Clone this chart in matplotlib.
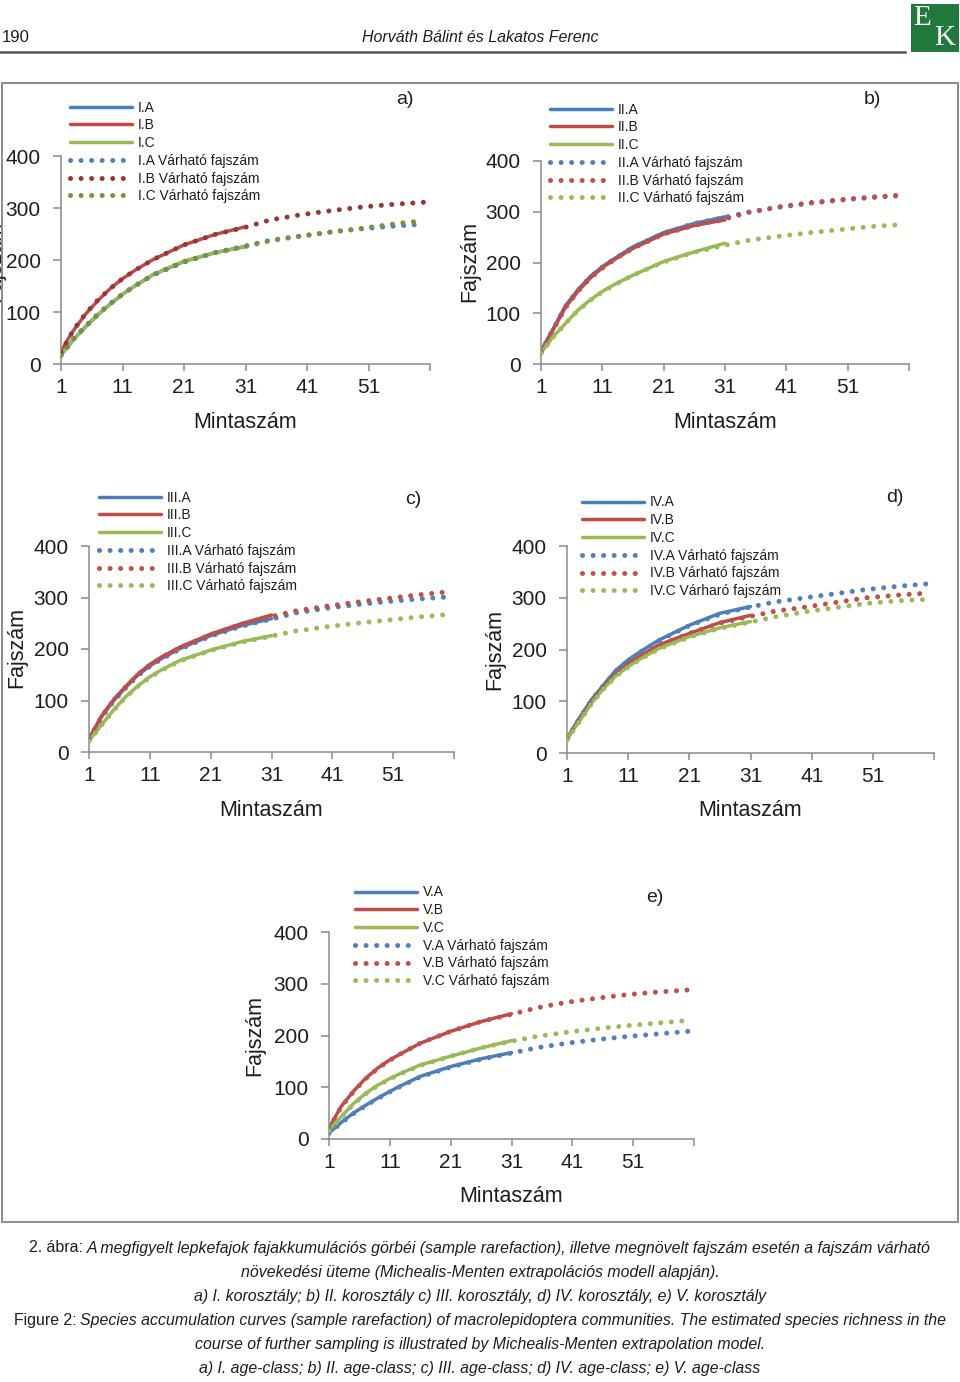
import matplotlib
matplotlib.use('Agg')
import matplotlib.pyplot as plt
from matplotlib.lines import Line2D
from matplotlib.patches import Rectangle

W, H = 960, 1382
FONT = ['Liberation Sans Narrow', 'Liberation Sans', 'DejaVu Sans']
plt.rcParams['font.family'] = FONT

# ---------------- data ----------------
OBS_X = [1, 2, 3, 5, 7, 9, 11, 13, 16, 21, 26, 31]
EXT_X = [1, 3, 5, 7, 9, 11, 13, 16, 21, 26, 31, 35, 40, 45, 50, 55, 60]
X_TICKS = [1, 11, 21, 31, 41, 51, 61]
X_TICK_LABELS = ['1', '11', '21', '31', '41', '51', '']
Y_TICKS = [0, 100, 200, 300, 400]

# panel a) I. age-class
IA_obs = [18, 32, 47, 72, 95, 115, 134, 150, 172, 197, 214, 226]
IB_obs = [24, 45, 64, 96, 122, 145, 164, 180, 201, 229, 249, 264]
IC_obs = [17, 31, 46, 71, 94, 115, 134, 150, 172, 198, 214, 226]
IA_ext = [17, 48, 73, 96, 116, 134, 150, 171, 196, 214, 227, 238, 246, 254, 260, 265, 269]
IB_ext = [22, 65, 97, 123, 145, 164, 180, 201, 229, 249, 263, 277, 287, 295, 302, 307, 311]
IC_ext = [16, 47, 72, 95, 116, 134, 150, 172, 197, 214, 226, 237, 246, 254, 261, 269, 276]

# panel b) II. age-class
IIA_obs = [25, 48, 70, 115, 146, 172, 192, 208, 231, 259, 277, 290]
IIB_obs = [24, 46, 68, 112, 143, 169, 190, 206, 228, 256, 273, 284]
IIC_obs = [22, 38, 54, 80, 106, 126, 143, 157, 175, 202, 221, 238]
IIA_ext = [24, 69, 114, 145, 171, 191, 207, 230, 258, 277, 289, 300, 309, 317, 323, 328, 332]
IIB_ext = [23, 67, 111, 143, 169, 189, 206, 228, 256, 273, 286, 299, 310, 318, 324, 329, 333]
IIC_ext = [21, 53, 80, 105, 125, 142, 156, 175, 201, 220, 234, 244, 252, 259, 265, 271, 275]

# panel c) III. age-class
IIIA_obs = [25, 46, 67, 99, 125, 149, 167, 182, 201, 226, 245, 259]
IIIB_obs = [26, 47, 69, 101, 127, 151, 170, 185, 204, 229, 249, 266]
IIIC_obs = [22, 37, 52, 81, 107, 128, 146, 160, 178, 198, 214, 226]
IIIA_ext = [24, 66, 98, 124, 148, 166, 181, 200, 225, 244, 258, 270, 279, 286, 292, 297, 301]
IIIB_ext = [25, 68, 100, 126, 150, 169, 184, 203, 228, 248, 263, 274, 283, 291, 298, 305, 311]
IIIC_ext = [21, 51, 80, 106, 127, 145, 159, 177, 197, 213, 225, 235, 243, 250, 256, 262, 267]

# panel d) IV. age-class
IVA_obs = [28, 48, 67, 103, 132, 160, 180, 196, 218, 247, 270, 283]
IVB_obs = [27, 46, 65, 100, 128, 153, 173, 188, 209, 231, 252, 266]
IVC_obs = [26, 44, 61, 96, 125, 149, 167, 182, 202, 225, 242, 254]
IVA_ext = [27, 66, 102, 131, 158, 178, 195, 217, 246, 268, 282, 292, 300, 308, 316, 322, 327]
IVB_ext = [26, 64, 99, 127, 152, 172, 187, 208, 231, 251, 264, 274, 282, 291, 300, 305, 309]
IVC_ext = [25, 60, 95, 124, 148, 166, 181, 201, 224, 241, 253, 263, 273, 281, 289, 294, 297]

# panel e) V. age-class
VA_obs = [12, 22, 32, 50, 65, 79, 92, 104, 121, 140, 155, 167]
VB_obs = [21, 42, 63, 92, 117, 137, 153, 166, 185, 208, 227, 242]
VC_obs = [17, 30, 43, 68, 88, 104, 117, 128, 143, 160, 176, 190]
VA_ext = [11, 31, 49, 64, 78, 91, 103, 120, 139, 154, 166, 176, 185, 192, 198, 203, 208]
VB_ext = [20, 62, 91, 116, 136, 152, 166, 185, 208, 227, 241, 253, 264, 272, 279, 284, 288]
VC_ext = [16, 42, 67, 87, 103, 116, 127, 142, 160, 176, 189, 198, 206, 213, 219, 224, 229]

LABELS_A = ['I.A', 'I.B', 'I.C', 'I.A Várható fajszám', 'I.B Várható fajszám', 'I.C Várható fajszám']
LABELS_B = ['II.A', 'II.B', 'II.C', 'II.A Várható fajszám', 'II.B Várható fajszám', 'II.C Várható fajszám']
LABELS_C = ['III.A', 'III.B', 'III.C', 'III.A Várható fajszám', 'III.B Várható fajszám', 'III.C Várható fajszám']
LABELS_D = ['IV.A', 'IV.B', 'IV.C', 'IV.A Várható fajszám', 'IV.B Várható fajszám', 'IV.C Várharó fajszám']
LABELS_E = ['V.A', 'V.B', 'V.C', 'V.A Várható fajszám', 'V.B Várható fajszám', 'V.C Várható fajszám']

X_LABEL = 'Mintaszám'
Y_LABEL = 'Fajszám'

# ---------------- styles ----------------
SOLID_COLORS = ['#4A7EBB', '#BE4B48', '#98B954']
DOT_COLORS_DARK = ['#4F81BD', '#953735', '#77933C']
DOT_COLORS = ['#4F81BD', '#C0504D', '#9BBB59']
SPINE = '#8a8a8a'
TXT = '#1e1e1e'

fig = plt.figure(figsize=(9.6, 13.82), dpi=100)


def fx(x):
    return x / W


def fy(y):
    return 1 - y / H


panels = [
    dict(box=(61, 156, 430, 364), obs=[IA_obs, IB_obs, IC_obs], ext=[IA_ext, IB_ext, IC_ext],
         labels=LABELS_A, dots=DOT_COLORS_DARK, leg=(70, 100.5), letter=('a)', 405, 100),
         ylab=(5, 262, 'right')),
    dict(box=(541, 161, 909, 364), obs=[IIA_obs, IIB_obs, IIC_obs], ext=[IIA_ext, IIB_ext, IIC_ext],
         labels=LABELS_B, dots=DOT_COLORS, leg=(550, 102.5), letter=('b)', 872, 100),
         ylab=(470, 262, 'center')),
    dict(box=(89, 546, 454, 752), obs=[IIIA_obs, IIIB_obs, IIIC_obs], ext=[IIIA_ext, IIIB_ext, IIIC_ext],
         labels=LABELS_C, dots=DOT_COLORS, leg=(99, 490.5), letter=('c)', 413, 499),
         ylab=(17, 648, 'center')),
    dict(box=(567, 546, 934, 753), obs=[IVA_obs, IVB_obs, IVC_obs], ext=[IVA_ext, IVB_ext, IVC_ext],
         labels=LABELS_D, dots=DOT_COLORS, leg=(582, 495.5), letter=('d)', 895, 498),
         ylab=(495, 650, 'center')),
    dict(box=(329, 932, 694, 1139), obs=[VA_obs, VB_obs, VC_obs], ext=[VA_ext, VB_ext, VC_ext],
         labels=LABELS_E, dots=DOT_COLORS, leg=(355, 885.5), letter=('e)', 655, 898),
         ylab=(255, 1035, 'center')),
]

DOT_STYLE = (0, (0.01, 2.1))

for p in panels:
    l, t, r, b = p['box']
    ax = fig.add_axes([fx(l), fy(b), (r - l) / W, (b - t) / H])
    handles = []
    for ys, c in zip(p['obs'], SOLID_COLORS):
        h, = ax.plot(OBS_X, ys, color=c, lw=2.5, solid_capstyle='round', zorder=2)
        handles.append(h)
    for ys, c in zip(p['ext'], p['dots']):
        h, = ax.plot(EXT_X, ys, color=c, lw=3.6, linestyle=DOT_STYLE,
                     dash_capstyle='round', zorder=3)
        handles.append(h)
    ax.set_xlim(1, 61)
    ax.set_ylim(0, 400)
    ax.set_xticks(X_TICKS)
    ax.set_xticklabels(X_TICK_LABELS)
    ax.set_yticks(Y_TICKS)
    for s in ('top', 'right'):
        ax.spines[s].set_visible(False)
    for s in ('left', 'bottom'):
        ax.spines[s].set_color(SPINE)
        ax.spines[s].set_linewidth(1.1)
    ax.tick_params(axis='y', direction='out', length=5.5, width=1.1, color=SPINE,
                   pad=9, labelsize=15, labelcolor=TXT)
    ax.tick_params(axis='x', direction='out', length=5, width=1.1, color=SPINE,
                   pad=5, labelsize=15, labelcolor=TXT)
    ax.patch.set_alpha(0)
    # axis labels
    fig.text(fx((l + r) / 2), fy(b + 58), X_LABEL, ha='center', va='center',
             fontsize=15.5, color=TXT)
    yx, yy, yha = p['ylab']
    fig.text(fx(yx), fy(yy), Y_LABEL, rotation=90, ha=yha, va='center',
             fontsize=15.5, color=TXT)
    # panel letter
    letter, lx, ly = p['letter']
    fig.text(fx(lx), fy(ly), letter, ha='center', va='center', fontsize=14, color=TXT)
    # legend
    gx, gy = p['leg']
    fig.legend(handles, p['labels'], loc='upper left',
               bbox_to_anchor=(fx(gx), fy(gy)), bbox_transform=fig.transFigure,
               frameon=False, fontsize=10, handlelength=4.45, handletextpad=0.43,
               labelspacing=0.27, borderpad=0, borderaxespad=0,
               labelcolor=TXT)

# ---------------- page decorations ----------------
fig.text(fx(2), fy(37), '190', ha='left', va='center', fontsize=12, color=TXT)
fig.text(fx(480), fy(37), 'Horváth Bálint és Lakatos Ferenc', ha='center', va='center',
         fontsize=11.5, style='italic', color=TXT)
fig.add_artist(Line2D([fx(0), fx(905)], [fy(52), fy(52)], color='#555555', lw=1.8,
                      transform=fig.transFigure))
# logo
fig.add_artist(Rectangle((fx(911), fy(52)), 48 / W, 48 / H, transform=fig.transFigure,
                         facecolor='#1f7a3c', edgecolor='none'))
fig.text(fx(922), fy(18), 'E', ha='center', va='center', fontsize=21,
         family=['Liberation Serif', 'DejaVu Serif'], color='white')
fig.text(fx(945), fy(38), 'K', ha='center', va='center', fontsize=21,
         family=['Liberation Serif', 'DejaVu Serif'], color='white')
# frame
fig.add_artist(Rectangle((fx(2), fy(1222)), 956 / W, (1222 - 83) / H, transform=fig.transFigure,
                         facecolor='none', edgecolor='#8c8c8c', lw=1.4))

# ---------------- caption ----------------
CAPTION = [
    [('2. ábra: ', 'normal'), ('A megfigyelt lepkefajok fajakkumulációs görbéi (sample rarefaction), illetve megnövelt fajszám esetén a fajszám várható', 'italic')],
    [('növekedési üteme (Michealis-Menten extrapolációs modell alapján).', 'italic')],
    [('a) I. korosztály; b) II. korosztály c) III. korosztály, d) IV. korosztály, e) V. korosztály', 'italic')],
    [('Figure 2: ', 'normal'), ('Species accumulation curves (sample rarefaction) of macrolepidoptera communities. The estimated species richness in the', 'italic')],
    [('course of further sampling is illustrated by Michealis-Menten extrapolation model.', 'italic')],
    [('a) I. age-class; b) II. age-class; c) III. age-class; d) IV. age-class; e) V. age-class', 'italic')],
]
CAP_Y = [1248, 1272, 1296, 1320, 1344, 1368]
CAP_TARGET_W = 930  # width of the widest (4th) line in pixels

renderer = fig.canvas.get_renderer()
probe = []
for s, st in CAPTION[3]:
    probe.append(fig.text(0, 0, s, fontsize=12, style=st))
pw = sum(t.get_window_extent(renderer).width for t in probe)
for t in probe:
    t.remove()
CAP_SIZE = 12 * CAP_TARGET_W / pw

for parts, y in zip(CAPTION, CAP_Y):
    texts = []
    for s, st in parts:
        t = fig.text(0, fy(y), s, ha='left', va='center', fontsize=CAP_SIZE, style=st, color=TXT)
        texts.append(t)
    widths = [t.get_window_extent(renderer).width for t in texts]
    total = sum(widths)
    x0 = 480 - total / 2
    for t, w in zip(texts, widths):
        t.set_x(fx(x0))
        x0 += w

fig.savefig('out.png', dpi=100, facecolor='white')
